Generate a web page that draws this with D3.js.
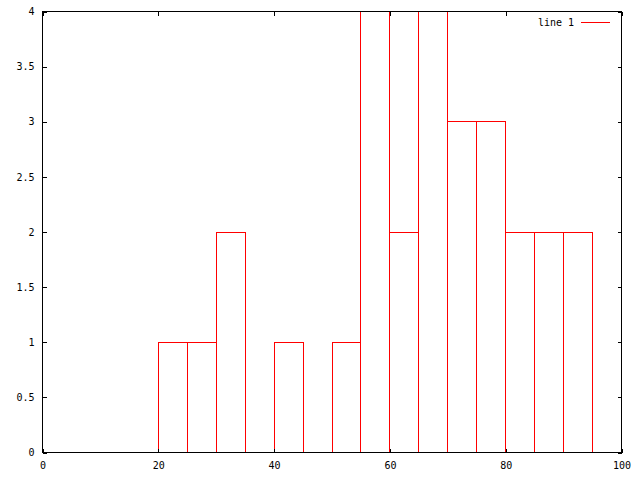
<!DOCTYPE html>
<html>
<head>
<meta charset="utf-8">
<script src="https://cdn.jsdelivr.net/npm/d3@7"></script>
<style>
  body { margin: 0; background: #fff; }
  svg { display: block; }
  text { font-family: "DejaVu Sans Mono", "Liberation Mono", monospace; font-size: 10px; fill: #000; }
</style>
</head>
<body>
<script>
// Data: histogram bins (left edge), bin width, counts
const binStarts = [20, 25, 30, 35, 40, 45, 50, 55, 60, 65, 70, 75, 80, 85, 90];
const counts    = [1, 1, 2, 0, 1, 0, 1, 4, 2, 4, 3, 3, 2, 2, 2];
const binWidth = 5;
const xTicks = [0, 20, 40, 60, 80, 100];
const yTicks = [0, 0.5, 1, 1.5, 2, 2.5, 3, 3.5, 4];
const seriesName = "line 1";

const W = 640, H = 480;
const L = 42, R = 621, T = 11, B = 452;

const svg = d3.select("body").append("svg").attr("width", W).attr("height", H);

const x = d3.scaleLinear().domain([0, 100]).range([L, R]);
const y = d3.scaleLinear().domain([0, 4]).range([B, T]);
const px = v => Math.round(v) + 0.5;

// boxes
const bins = binStarts.map((s, i) => ({ s, c: counts[i] })).filter(d => d.c > 0);
svg.append("g").selectAll("rect").data(bins).join("rect")
  .attr("x", d => px(x(d.s)))
  .attr("y", d => px(y(d.c)))
  .attr("width", d => Math.round(x(d.s + binWidth)) - Math.round(x(d.s)))
  .attr("height", d => Math.round(y(0)) - Math.round(y(d.c)))
  .attr("fill", "none")
  .attr("stroke", "#ff0000")
  .attr("stroke-width", 1)
  .attr("shape-rendering", "crispEdges");

// axes (ticks inward)
const fmt = d => String(d);
const gL = svg.append("g").attr("transform", `translate(${L + 0.5},0.5)`)
  .call(d3.axisLeft(y).tickValues(yTicks).tickFormat(fmt).tickSize(-4).tickPadding(8));
const gR = svg.append("g").attr("transform", `translate(${R + 0.5},0.5)`)
  .call(d3.axisRight(y).tickValues(yTicks).tickFormat("").tickSize(-4));
const gB = svg.append("g").attr("transform", `translate(0.5,${B + 0.5})`)
  .call(d3.axisBottom(x).tickValues(xTicks).tickFormat(fmt).tickSize(-4).tickPadding(9));
const gT = svg.append("g").attr("transform", `translate(0.5,${T + 0.5})`)
  .call(d3.axisTop(x).tickValues(xTicks).tickFormat("").tickSize(-4));
[gL, gR, gB, gT].forEach(g => {
  g.select(".domain").remove();
  g.selectAll("line").attr("stroke", "#000").attr("shape-rendering", "crispEdges");
  g.selectAll("text").attr("font-family", null).attr("font-size", null);
});

// border
svg.append("rect")
  .attr("x", L + 0.5).attr("y", T + 0.5)
  .attr("width", R - L).attr("height", B - T)
  .attr("fill", "none").attr("stroke", "#000").attr("stroke-width", 1)
  .attr("shape-rendering", "crispEdges");

// legend
svg.append("text").attr("x", 574).attr("y", 22).attr("dy", "0.35em")
  .attr("text-anchor", "end").text(seriesName);
svg.append("line").attr("x1", 581).attr("x2", 610).attr("y1", 22.5).attr("y2", 22.5)
  .attr("stroke", "#ff0000").attr("stroke-width", 1).attr("shape-rendering", "crispEdges");
</script>
</body>
</html>
